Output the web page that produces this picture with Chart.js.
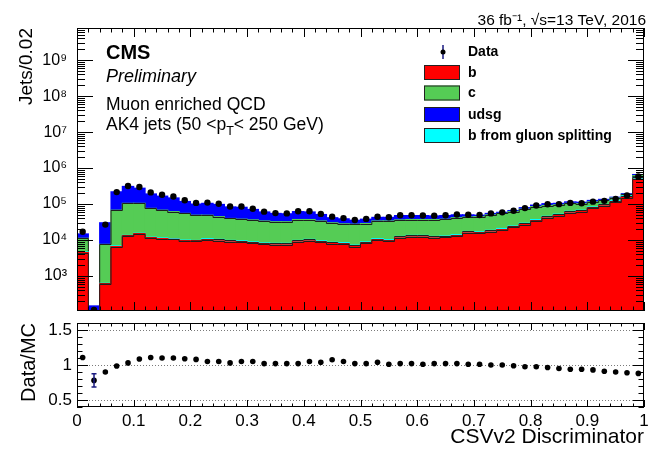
<!DOCTYPE html>
<html><head><meta charset="utf-8">
<script src="https://cdn.jsdelivr.net/npm/chart.js@4.4.1/dist/chart.umd.min.js"></script>
<style>
html,body{margin:0;padding:0;background:#fff;}
#wrap{position:relative;width:648px;height:450px;overflow:hidden;background:#fff;}
#top{position:absolute;left:0;top:0;}
#ratio{position:absolute;left:0;top:316px;}
</style></head><body>
<div id="wrap"><canvas id="top" width="648" height="316"></canvas><canvas id="ratio" width="648" height="134"></canvas></div>
<script>
// ---- data (bins of width 0.02) ----
const binCenters = [0.01,0.03,0.05,0.07,0.09,0.11,0.13,0.15,0.17,0.19,0.21,0.23,0.25,0.27,0.29,0.31,0.33,0.35,0.37,0.39,0.41,0.43,0.45,0.47,0.49,0.51,0.53,0.55,0.57,0.59,0.61,0.63,0.65,0.67,0.69,0.71,0.73,0.75,0.77,0.79,0.81,0.83,0.85,0.87,0.89,0.91,0.93,0.95,0.97,0.99];
const bJets = [4470,0,600,6610,12900,14800,11500,11000,10500,9550,9330,10000,9550,8910,8710,8130,7590,7410,7410,8910,9550,8710,7940,7760,6610,8130,10000,9330,11500,12300,12300,11500,11800,12900,15800,15500,17000,19100,22400,26900,33900,41700,47900,57500,61700,75900,89100,112000,151000,490000];
const bFromGluonSplitting = [210,0,30,310,600,700,540,520,490,450,440,960,920,860,840,780,730,710,710,860,920,840,760,750,630,780,960,900,1100,1180,1180,1100,1130,1240,1520,1490,1630,1830,2150,2580,3250,4000,4600,5520,5920,7280,8560,13700,18500,59800];
const cJets = [6540,0,6960,60700,91200,89200,63800,56100,50700,45000,39200,38000,34200,30000,28500,27400,25600,24200,24200,27400,26700,24300,21500,19700,20300,19900,22900,23700,23700,23700,23700,24600,25100,27600,26300,27700,31500,34100,37100,42900,48000,45500,43000,41600,34700,31700,28200,22000,16300,67000];
const udsgJets = [3570,148,22600,151000,204000,171000,115000,98400,86200,62600,51000,55700,53000,43400,43300,34500,26400,22600,21300,24500,23100,17400,11500,10700,7940,9180,8780,8780,11600,10700,10700,9620,9840,8430,6470,4310,4830,3930,4410,6990,8220,11100,9200,10100,9900,11100,9000,7000,8800,44100];
const dataJets = [17000,115,26900,215000,318000,299000,211000,182000,162000,128000,108000,110000,102000,85700,85300,74100,61700,56200,55000,63100,63300,53300,44800,40800,36200,38800,44400,43100,48800,48800,48300,47700,48800,51100,50600,49500,55000,58900,65400,77400,91000,98700,99500,108000,105500,117000,123000,139000,174000,581000];
const dataOverMC = [1.107,0.78,0.90,0.985,1.03,1.085,1.107,1.10,1.10,1.09,1.08,1.05,1.05,1.03,1.05,1.05,1.02,1.02,1.02,1.02,1.05,1.04,1.075,1.05,1.02,1.02,1.04,1.01,1.02,1.02,1.01,1.02,1.02,1.02,1.01,1.01,1.00,1.00,0.99,0.975,0.975,0.965,0.95,0.94,0.94,0.93,0.91,0.90,0.89,0.88];
const dataOverMCErr = [0.008,0.095,0.006,0.004,0.003,0.003,0.003,0.003,0.003,0.003,0.003,0.003,0.003,0.003,0.003,0.003,0.003,0.003,0.003,0.003,0.003,0.003,0.003,0.003,0.003,0.003,0.003,0.003,0.003,0.003,0.003,0.003,0.003,0.003,0.003,0.003,0.003,0.003,0.003,0.003,0.003,0.003,0.003,0.003,0.003,0.003,0.003,0.003,0.003,0.002];
// ---- ticks ----
const yTickValues = [1e3,1e4,1e5,1e6,1e7,1e8,1e9];
const yTickLabels = ['10\u00B3','10\u2074','10\u2075','10\u2076','10\u2077','10\u2078','10\u2079'];
const xTickValues = [0,0.1,0.2,0.3,0.4,0.5,0.6,0.7,0.8,0.9,1];
const xTickLabels = ['0','0.1','0.2','0.3','0.4','0.5','0.6','0.7','0.8','0.9','1'];
const ratioTickValues = [0.5,1,1.5];
const ratioTickLabels = ['0.5','1','1.5'];

const FONT = "'Liberation Sans', Arial, Helvetica, sans-serif";
Chart.defaults.font.family = FONT;
Chart.defaults.color = '#000';

const COLORS = {b:'#ff0000', bg:'#00ffff', c:'#55cc55', udsg:'#0000ff'};

function xy(arr){ return binCenters.map((x,i)=>({x:x, y:arr[i]})); }

function makeFrame(cfg){
  return {
    id:'frame_'+cfg.name,
    beforeDatasetsDraw(chart){
      if(!cfg.dotted) return;
      const {ctx, chartArea:a} = chart; const ys = chart.scales.y;
      ctx.save(); ctx.strokeStyle='#7a7a7a'; ctx.lineWidth=1; ctx.setLineDash([1,2]);
      ctx.beginPath();
      cfg.dotted.forEach(v=>{ const py=Math.round(ys.getPixelForValue(v))+0.5; ctx.moveTo(a.left,py); ctx.lineTo(a.right,py); });
      ctx.stroke(); ctx.restore();
    },
    afterDatasetsDraw(chart){
      const {ctx, chartArea:a} = chart; const xs = chart.scales.x, ys = chart.scales.y;
      ctx.save(); ctx.strokeStyle='#000'; ctx.lineWidth=1; ctx.beginPath();
      for(let i=0;i<=50;i++){
        const px = Math.round(xs.getPixelForValue(i/50))+0.5;
        const len = i%5===0 ? cfg.xMajor : cfg.xMinor;
        ctx.moveTo(px,a.bottom); ctx.lineTo(px,a.bottom-len);
        ctx.moveTo(px,a.top); ctx.lineTo(px,a.top+len);
      }
      cfg.yTicks(ys).forEach(([v,len])=>{
        const py = Math.round(ys.getPixelForValue(v))+0.5;
        ctx.moveTo(a.left,py); ctx.lineTo(a.left+len,py);
        ctx.moveTo(a.right,py); ctx.lineTo(a.right-len,py);
      });
      ctx.stroke();
      ctx.strokeRect(Math.round(a.left)+0.5, Math.round(a.top)+0.5, Math.round(a.right-a.left)-1, Math.round(a.bottom-a.top)-1);
      ctx.restore();
    }
  };
}

// step outline on top of each stacked histogram layer (uses the bar elements laid out by Chart.js)
const stepOutline = {
  id:'stepOutline',
  afterDatasetDraw(chart, args){
    if (args.index > 2) return;
    const meta = args.meta; const ctx = chart.ctx; const ys = chart.scales.y;
    const bars = meta.data; if (!bars.length) return;
    ctx.save();
    ctx.beginPath(); ctx.rect(chart.chartArea.left, chart.chartArea.top, chart.chartArea.right-chart.chartArea.left, chart.chartArea.bottom-chart.chartArea.top); ctx.clip();
    ctx.strokeStyle = '#1e1e1e'; ctx.lineWidth = 1; ctx.beginPath();
    bars.forEach((el,j)=>{
      const p = el.getProps(['x','y','width','base'], true);
      let y = isFinite(p.y) ? p.y : ys.bottom;
      y = Math.round(y) + 0.5;
      const l = p.x - p.width/2, r = p.x + p.width/2;
      if (j === 0) ctx.moveTo(l, y); else ctx.lineTo(l, y);
      ctx.lineTo(r, y);
    });
    ctx.stroke(); ctx.restore();
  }
};

const topText = {
  id:'topText',
  afterDraw(chart){
    const ctx = chart.ctx;
    ctx.save(); ctx.fillStyle='#000'; ctx.textBaseline='alphabetic'; ctx.textAlign='left';
    ctx.font = 'bold 20px '+FONT; ctx.fillText('CMS',106,59);
    ctx.font = 'italic 18px '+FONT; ctx.fillText('Preliminary',106,82);
    ctx.font = '17.5px '+FONT; ctx.fillText('Muon enriched QCD',106,110);
    let x = 106; const s1='AK4 jets (50 <p';
    ctx.fillText(s1,x,130); x += ctx.measureText(s1).width;
    ctx.font = '12.5px '+FONT; ctx.fillText('T',x,135); x += ctx.measureText('T').width;
    ctx.font = '17.5px '+FONT; ctx.fillText('< 250 GeV)',x,130);
    ctx.textAlign='right'; ctx.font='15.5px '+FONT;
    ctx.fillText('36 fb\u207B\u00B9, \u221As=13 TeV, 2016',646,25);
    ctx.textAlign='left'; ctx.textBaseline='middle'; ctx.font='bold 14px '+FONT;
    const rows = [['Data',null,52],['b',COLORS.b,72.5],['c',COLORS.c,93],['udsg',COLORS.udsg,114.5],['b from gluon splitting',COLORS.bg,135.5]];
    rows.forEach(([t,col,y])=>{
      if(col){ ctx.fillStyle=col; ctx.fillRect(424,y-7.5,36,15); ctx.strokeStyle='#222'; ctx.lineWidth=1; ctx.strokeRect(424.5,y-7,35,14); }
      else { ctx.strokeStyle='#1a1a80'; ctx.lineWidth=1.5; ctx.beginPath(); ctx.moveTo(443,y-7); ctx.lineTo(443,y+7); ctx.stroke(); ctx.fillStyle='#000'; ctx.beginPath(); ctx.arc(443,y,2.5,0,Math.PI*2); ctx.fill(); }
      ctx.fillStyle='#000'; ctx.fillText(t,468,y+0.5);
    });
    ctx.restore();
  }
};

const ratioErrors = {
  id:'ratioErrors',
  afterDatasetsDraw(chart){
    const {ctx} = chart; const xs=chart.scales.x, ys=chart.scales.y;
    ctx.save(); ctx.strokeStyle='#1a1a80'; ctx.lineWidth=1.5; ctx.beginPath();
    dataOverMC.forEach((r,i)=>{
      const e = dataOverMCErr[i]; const px = xs.getPixelForValue(binCenters[i]);
      const y1 = ys.getPixelForValue(r-e), y2 = ys.getPixelForValue(r+e);
      if (Math.abs(y1-y2) < 6) return;
      ctx.moveTo(px,y1); ctx.lineTo(px,y2);
      ctx.moveTo(px-2.5,y1); ctx.lineTo(px+2.5,y1);
      ctx.moveTo(px-2.5,y2); ctx.lineTo(px+2.5,y2);
    });
    ctx.stroke(); ctx.restore();
  }
};

const barStyle = {stack:'mc', borderWidth:0, barPercentage:1, categoryPercentage:1, inflateAmount:0.6};

new Chart(document.getElementById('top'), {
  type:'bar',
  data:{datasets:[
    Object.assign({label:'b', data:xy(bJets), backgroundColor:COLORS.b}, barStyle),
    Object.assign({label:'b from gluon splitting', data:xy(bFromGluonSplitting), backgroundColor:COLORS.bg}, barStyle),
    Object.assign({label:'c', data:xy(cJets), backgroundColor:COLORS.c}, barStyle),
    Object.assign({label:'udsg', data:xy(udsgJets), backgroundColor:COLORS.udsg}, barStyle),
    {type:'scatter', label:'Data', data:xy(dataJets), stack:'data', order:-1, pointRadius:3.2, pointBackgroundColor:'#000', pointBorderWidth:0, pointBorderColor:'#000'}
  ]},
  options:{
    responsive:false, animation:false, events:[],
    layout:{padding:{left:0,right:2,top:28,bottom:5}},
    plugins:{legend:{display:false}, tooltip:{enabled:false}},
    scales:{
      x:{type:'linear', min:0, max:1, offset:false, display:false, bounds:'data',
         afterBuildTicks:s=>{s.ticks = xTickValues.map(v=>({value:v}));}},
      y:{type:'logarithmic', stacked:true, min:107, max:7.8e9, bounds:'data',
         afterBuildTicks:s=>{s.ticks = yTickValues.map(v=>({value:v}));},
         afterFit:s=>{s.width=77; s.paddingTop=0; s.paddingBottom=0;},
         grid:{display:false, drawTicks:false}, border:{display:false},
         ticks:{autoSkip:false, padding:10, font:{size:16}, callback:(v,i)=>yTickLabels[i]},
         title:{display:true, text:'Jets/0.02', align:'end', font:{size:19}, padding:{top:15,bottom:0}}}
    }
  },
  plugins:[stepOutline, makeFrame({name:'top', xMajor:9, xMinor:4.5, yTicks:(ys)=>{
    const out=[]; for(let n=2;n<=9;n++){ for(let k=1;k<=9;k++){ const v=k*Math.pow(10,n); if(v>=ys.min && v<=ys.max) out.push([v, k===1?16:8]); } } return out; }}), topText]
});

new Chart(document.getElementById('ratio'), {
  type:'scatter',
  data:{datasets:[{label:'Data/MC', data:binCenters.map((x,i)=>({x:x, y:dataOverMC[i]})), pointRadius:2.8, pointBackgroundColor:'#000', pointBorderWidth:0}]},
  options:{
    responsive:false, animation:false, events:[],
    layout:{padding:{left:0,right:2,top:7,bottom:0}},
    plugins:{legend:{display:false}, tooltip:{enabled:false}},
    scales:{
      x:{type:'linear', min:0, max:1, bounds:'data',
         afterBuildTicks:s=>{s.ticks = xTickValues.map(v=>({value:v}));},
         afterFit:s=>{s.height=43; s.paddingLeft=0; s.paddingRight=0;},
         grid:{display:false, drawTicks:false}, border:{display:false},
         ticks:{autoSkip:false, maxRotation:0, padding:4, font:{size:17}, callback:(v,i)=>xTickLabels[i]},
         title:{display:true, text:'CSVv2 Discriminator', align:'end', font:{size:21}, padding:{top:0,bottom:0}}},
      y:{type:'linear', min:0.4, max:1.6, bounds:'data',
         afterBuildTicks:s=>{s.ticks = ratioTickValues.map(v=>({value:v}));},
         afterFit:s=>{s.width=77; s.paddingTop=0; s.paddingBottom=0;},
         grid:{display:false, drawTicks:false}, border:{display:false},
         ticks:{autoSkip:false, padding:5, font:{size:17}, callback:(v,i)=>ratioTickLabels[i]},
         title:{display:true, text:'Data/MC', align:'end', font:{size:20}, padding:{top:17,bottom:0}}}
    }
  },
  plugins:[makeFrame({name:'ratio', xMajor:7, xMinor:3.5, dotted:ratioTickValues, yTicks:()=>{
    const out=[]; for(let i=4;i<=16;i++){ out.push([i/10, i%5===0?11:5.5]); } return out; }}), ratioErrors]
});
</script>
</body></html>
